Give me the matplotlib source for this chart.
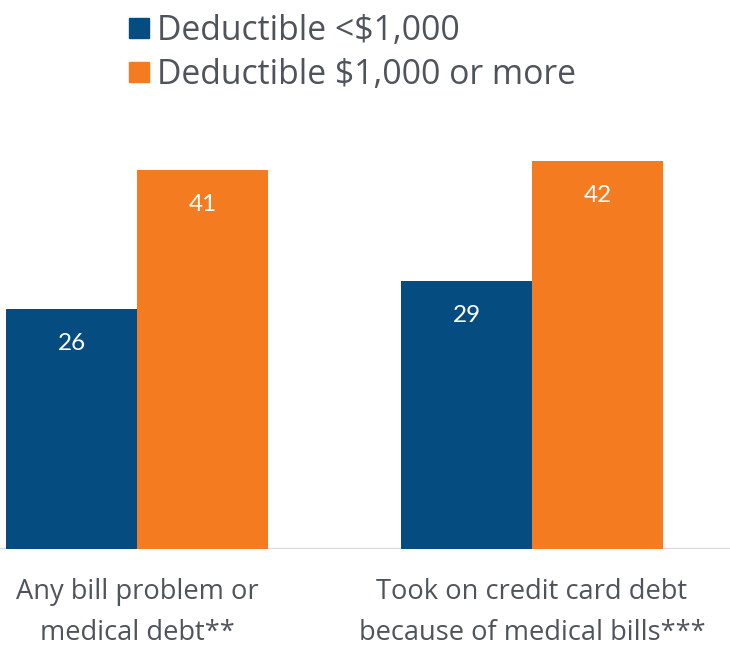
import matplotlib
matplotlib.use("Agg")
import matplotlib.pyplot as plt
from matplotlib.patches import Rectangle

categories = ["Any bill problem or\nmedical debt**", "Took on credit card debt\nbecause of medical bills***"]
series_names = ["Deductible <$1,000", "Deductible $1,000 or more"]
low_deductible = [26, 29]
high_deductible = [41, 42]

BLUE = "#054c80"
ORANGE = "#f47b20"
TEXT = "#4f535b"
FONT = "Open Sans"

W, H = 730, 649
fig = plt.figure(figsize=(W / 100, H / 100), dpi=100)
base_px = 549
px_per_unit = 9.25
ymax = 45
ax = fig.add_axes([0, (H - base_px) / H, 1, ymax * px_per_unit / H])

bw = 131 / 394.5
xs = list(range(len(categories)))
b1 = ax.bar([x - bw / 2 for x in xs], low_deductible, width=bw, color=BLUE, zorder=3)
b2 = ax.bar([x + bw / 2 for x in xs], high_deductible, width=bw, color=ORANGE, zorder=3)

for bars, vals in ((b1, low_deductible), (b2, high_deductible)):
    for rect, v in zip(bars, vals):
        ax.annotate(str(v), xy=(rect.get_x() + rect.get_width() / 2, v),
                    xytext=(0, -35), textcoords="offset pixels",
                    ha="center", va="center", color="white",
                    fontsize=17.5, family="Lato", zorder=4)

ax.set_xlim(-0.3485, 1.502)
ax.set_ylim(0, ymax)
ax.axhline(0, color="#d9d9d9", lw=1.6, zorder=2)
for s in ax.spines.values():
    s.set_visible(False)
ax.set_xticks([])
ax.set_yticks([])

for x, lab in zip(xs, categories):
    for j, line in enumerate(lab.split("\n")):
        ax.annotate(line, xy=(x, 0), xytext=(0, -43 - 41 * j), textcoords="offset pixels",
                    ha="center", va="center", color=TEXT, fontsize=19.6,
                    family=FONT)

# legend
for i, (name, col) in enumerate(zip(series_names, [BLUE, ORANGE])):
    cy = 27.5 + i * 44
    fig.add_artist(Rectangle((129 / W, 1 - (cy + 10) / H), 20 / W, 20 / H,
                             transform=fig.transFigure, color=col))
    fig.text(157 / W, 1 - (cy + 3) / H, name, ha="left", va="center",
             color=TEXT, fontsize=24.3, family=FONT)

fig.savefig("out.png", dpi=100, facecolor="white")
